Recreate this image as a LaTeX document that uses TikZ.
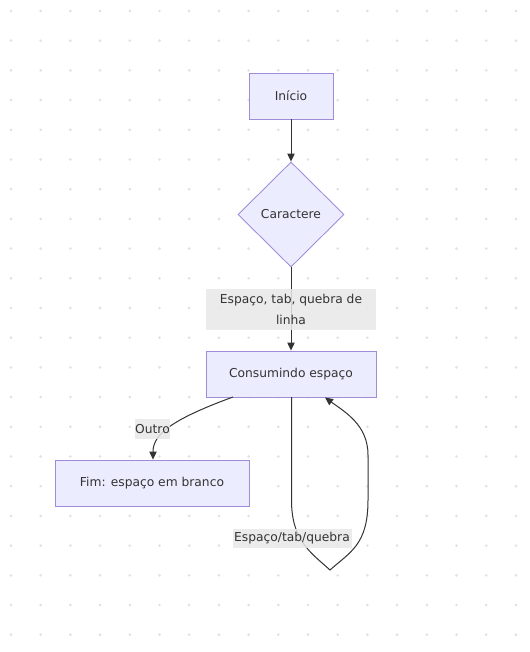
\documentclass[tikz,border=0pt]{standalone}
\usepackage{fontspec}
\setmainfont{DejaVu Sans}
\usetikzlibrary{shapes.geometric,arrows.meta}
\definecolor{nodefill}{HTML}{ECECFF}
\definecolor{nodeborder}{HTML}{A08BD9}
\definecolor{edgecol}{HTML}{333333}
\definecolor{lblbg}{HTML}{E8E8E8}
\definecolor{dotcol}{HTML}{E2E2E2}
\tikzset{
  box/.style={draw=nodeborder, fill=nodefill, line width=0.65pt, minimum height=34.5pt, inner sep=0pt, text=edgecol, font=\fontsize{9.2}{10}\selectfont},
  decision/.style={diamond, draw=nodeborder, fill=nodefill, line width=0.65pt, minimum width=79.5pt, minimum height=78.75pt, inner sep=0pt, aspect=1, text=edgecol, font=\fontsize{9.2}{10}\selectfont},
  lbl/.style={fill=lblbg, fill opacity=0.85, text opacity=1, inner sep=0pt, text=edgecol, font=\fontsize{9.2}{10}\selectfont},
  edge/.style={draw=edgecol, line width=0.75pt, -{Triangle[length=6pt,width=5.5pt]}},
}
\begin{document}
\begin{tikzpicture}[x=0.75pt,y=-0.75pt]
\useasboundingbox (0,0) rectangle (530,652);
\fill[white] (0,0) rectangle (530,652);
% dot grid
\foreach \i in {0,...,17}{
  \foreach \j in {0,...,21}{
    \fill[dotcol] (11+29.7*\i, 11+29.7*\j) circle (1.1pt);
  }
}
\node[box, minimum width=63pt] (start) at (291,96) {Início};
\node[decision] (char) at (291,214.5) {Caractere};
\node[box, minimum width=127.5pt] (cons) at (291,374) {Consumindo espaço};
\node[box, minimum width=145.5pt] (fim) at (152,483) {Fim: espaço em branco};

\draw[edge] (start) -- (char);
\draw[edge] (char) -- (cons);
\node[lbl, minimum width=127.5pt, minimum height=30.75pt, align=center, font=\fontsize{9.2}{15.75}\selectfont] (l1) at (291,309.5)
  {Espaço, tab, quebra de\\linha};

% Outro edge
\coordinate (oa) at (233,397);
\draw[edge] (oa) .. controls (170,420) and (153,435) .. (fim.north -| 153,0);
\node[lbl, minimum width=26.25pt, minimum height=15pt] (l2) at (152.5,429) {Outro};

% self loop
\coordinate (la) at (291.5,397);
\coordinate (lb) at (330,570);
\coordinate (lc) at (325,397.5);
\draw[edge] (la) -- (291.5,500) .. controls (291.5,540) and (310,552) .. (lb)
  .. controls (350,552) and (368,545) .. (368,500) -- (368,455)
  .. controls (368,425) and (345,412) .. (lc);
\node[lbl, minimum width=89.25pt, minimum height=14.25pt] (l3) at (292,538.5) {Espaço/tab/quebra};
\end{tikzpicture}
\end{document}
